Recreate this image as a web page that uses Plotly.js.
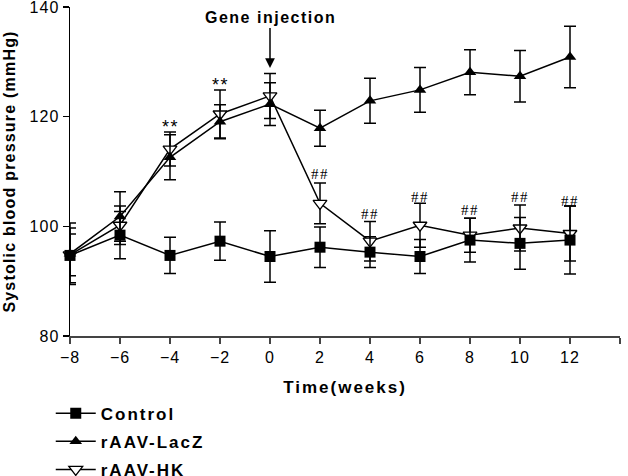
<!DOCTYPE html>
<html>
<head>
<meta charset="utf-8">
<script src="https://cdn.plot.ly/plotly-3.0.1.min.js"></script>
<style>
  html, body { margin: 0; padding: 0; background: #fff; }
  #chart { width: 628px; height: 476px; }
  .xtick text, .ytick text { letter-spacing: 1px; }
  .legendtext, .xtitle { letter-spacing: 2px; }
  .ytitle { letter-spacing: 1.2px; }
  .annotation-text { letter-spacing: 1.5px; }
</style>
</head>
<body>
<div id="chart"></div>
<script>
const weeks = [-8, -6, -4, -2, 0, 2, 4, 6, 8, 10, 12];

const controlMean = [94.7, 98.4, 94.7, 97.3, 94.5, 96.2, 95.3, 94.5, 97.5, 96.9, 97.5];
const controlSem = [5.0, 4.3, 3.3, 3.5, 4.7, 3.7, 2.8, 3.1, 4.0, 4.7, 6.2];

const laczMean = [95.0, 101.8, 112.6, 119.1, 122.3, 117.9, 122.9, 124.9, 128.1, 127.4, 130.9];
const laczSem = [5.6, 4.5, 4.1, 3.1, 3.9, 3.3, 4.1, 4.1, 4.1, 4.7, 5.6];

const hkMean = [94.8, 100.2, 114.1, 120.5, 123.8, 104.2, 97.3, 100.2, 98.4, 99.7, 98.7];
const hkSem = [3.8, 3.5, 3.1, 4.4, 4.1, 3.7, 3.6, 4.0, 3.1, 4.2, 5.0];

// significance marks drawn above the bars
const starWeeks = [-4, -2];
const starY = [118.2, 125.8];
const hashWeeks = [2, 4, 6, 8, 10, 12];
const hashY = [109.6, 102.3, 105.3, 102.9, 105.3, 104.6];

const injectionWeek = 0;
const injectionY = 128.9;

function errorBars(values) {
  return { type: "data", array: values, visible: true, color: "#000", thickness: 1.5, width: 6 };
}

function makeTrace(name, y, err, marker, rank) {
  return {
    type: "scatter",
    mode: "lines+markers",
    name,
    x: weeks,
    y,
    error_y: errorBars(err),
    line: { color: "#000", width: 1.5 },
    marker,
    cliponaxis: false,
    legendgroup: name,
    legendrank: rank,
  };
}

// drawn HK first so the control squares sit on top, as in the original
const traces = [
  makeTrace("rAAV-HK", hkMean, hkSem,
    { symbol: "triangle-down", size: 12, color: "#fff", line: { color: "#000", width: 1.3 } }, 3),
  makeTrace("rAAV-LacZ", laczMean, laczSem,
    { symbol: "triangle-up", size: 11, color: "#000" }, 2),
  makeTrace("Control", controlMean, controlSem,
    { symbol: "square", size: 11, color: "#000" }, 1),
];

const annotations = [
  {
    x: injectionWeek, y: injectionY, xref: "x", yref: "y",
    text: "Gene injection",
    showarrow: true, arrowhead: 2, arrowsize: 1.3, arrowwidth: 1.5, arrowcolor: "#000",
    ax: 0, ay: -50,
    font: { family: "Liberation Sans, Arial", size: 16, color: "#000", weight: "bold" },
  },
];
starWeeks.forEach((w, i) => {
  annotations.push({
    x: w, y: starY[i], xref: "x", yref: "y", text: "**", showarrow: false,
    font: { family: "Liberation Sans, Arial", size: 18, color: "#000" },
  });
});
hashWeeks.forEach((w, i) => {
  annotations.push({
    x: w, y: hashY[i], xref: "x", yref: "y", text: "##", showarrow: false,
    font: { family: "Liberation Serif, Times New Roman", size: 15, color: "#000" },
  });
});

const layout = {
  width: 628,
  height: 476,
  margin: { l: 70, r: 8, t: 7, b: 140, autoexpand: false },
  paper_bgcolor: "#fff",
  plot_bgcolor: "#fff",
  font: { family: "Liberation Sans, Arial", color: "#000" },
  showlegend: true,
  legend: {
    x: -0.035, y: -0.461, xanchor: "left", yanchor: "bottom",
    traceorder: "grouped",
    tracegroupgap: 3,
    itemwidth: 40,
    font: { family: "Liberation Sans, Arial", size: 17, color: "#000", weight: "bold" },
  },
  xaxis: {
    range: [-8, 14],
    tickmode: "array",
    tickvals: [-8, -6, -4, -2, 0, 2, 4, 6, 8, 10, 12, 14],
    ticks: "outside", ticklen: 6, tickwidth: 1.5, tickcolor: "#444",
    showline: true, linecolor: "#444", linewidth: 1.5,
    showgrid: false, zeroline: false,
    tickfont: { size: 16 },
    title: { text: "Time(weeks)", font: { size: 17, weight: "bold" }, standoff: 16 },
  },
  yaxis: {
    range: [80, 140.02],
    tickmode: "array",
    tickvals: [80, 100, 120, 140],
    ticks: "outside", ticklen: 6, tickwidth: 1.5, tickcolor: "#000",
    ticklabeloverflow: "allow",
    showline: true, linecolor: "#000", linewidth: 1.5,
    showgrid: false, zeroline: false,
    tickfont: { size: 16 },
    title: { text: "Systolic blood pressure (mmHg)", font: { size: 16, weight: "bold" }, standoff: 10 },
  },
  annotations,
};

Plotly.newPlot("chart", traces, layout, { displayModeBar: false, staticPlot: true });
</script>
</body>
</html>
